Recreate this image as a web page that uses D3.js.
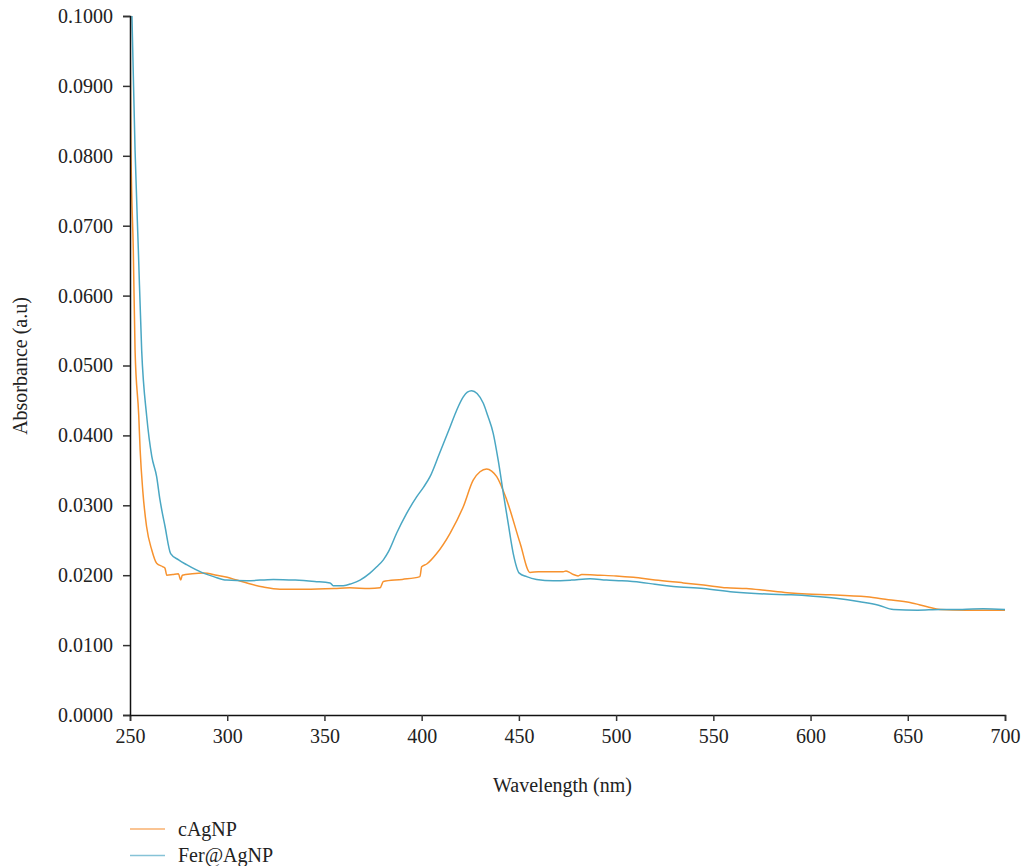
<!DOCTYPE html>
<html>
  <head>
    <meta charset="utf-8">
    <script src="https://d3js.org/d3.v7.min.js"></script>
    <style>
      body { margin: 0; background: #fff; }
      text { font-family: "Liberation Serif", serif; }
    </style>
  </head>
  <body>
    <div id="chart"></div>
    <script>
      // wavelength (nm) and absorbance
      var cAgNP = [
        [250, 0.1000], [250.5, 0.0808], [251.7, 0.0665], [252.6, 0.0522], [254.5, 0.0428],
        [255.2, 0.0380], [256.6, 0.0320], [258.5, 0.0270], [261.2, 0.0236], [263.7, 0.0217],
        [267, 0.0212], [268, 0.0210], [268.9, 0.0200], [272, 0.0201], [274.9, 0.0202],
        [276.1, 0.0193], [276.9, 0.0200], [282, 0.0202], [287.7, 0.0203], [294.6, 0.0200],
        [300, 0.0197], [304.9, 0.0193], [311, 0.0188], [318.6, 0.0183], [327.1, 0.0180],
        [340, 0.0180], [355, 0.0181], [363, 0.0182], [373, 0.0181], [378.6, 0.0182],
        [380.3, 0.0191], [390, 0.0194], [399.1, 0.0198], [400, 0.0212], [402.6, 0.0216],
        [407.7, 0.0231], [414.6, 0.0260], [421.4, 0.0298], [426.5, 0.0336], [430, 0.0348],
        [433.4, 0.0352], [436, 0.0349], [438.6, 0.0341], [443.7, 0.0308], [450.6, 0.0246],
        [455.7, 0.0204], [460, 0.0205], [466, 0.0205], [472.8, 0.0205], [474.2, 0.0206],
        [476, 0.0204], [478, 0.0201], [480.5, 0.0199], [482.3, 0.0201], [491.7, 0.0200],
        [500, 0.0199], [508.9, 0.0197], [520, 0.0193], [534.6, 0.0189], [545, 0.0186],
        [556.9, 0.0182], [567, 0.0181], [577.5, 0.0178], [588, 0.0175], [598, 0.0173],
        [610, 0.0172], [628.9, 0.0169], [640, 0.0165], [651.1, 0.0161], [660, 0.0155],
        [666.6, 0.0151], [680, 0.0150], [700, 0.0150]
      ];

      var ferAgNP = [
        [251, 0.1000], [252.6, 0.0808], [254.3, 0.0665], [256, 0.0522], [258.6, 0.0427],
        [261.2, 0.0370], [263.7, 0.0341], [265.4, 0.0308], [268, 0.0270], [270.9, 0.0231],
        [275, 0.0222], [279.1, 0.0215], [287.7, 0.0203], [293, 0.0198], [299.7, 0.0193],
        [310, 0.0192], [323.7, 0.0194], [335, 0.0193], [345, 0.0191], [352.9, 0.0189],
        [354.5, 0.0185], [359.7, 0.0185], [364, 0.0188], [368.3, 0.0193], [373.4, 0.0203],
        [376.9, 0.0212], [380.3, 0.0222], [383, 0.0234], [387.1, 0.0260], [392, 0.0287],
        [397.4, 0.0312], [401, 0.0326], [404.3, 0.0341], [409, 0.0373], [414.6, 0.0412],
        [418, 0.0436], [421.4, 0.0455], [423.5, 0.0462], [425.7, 0.0464], [428.5, 0.0460],
        [431.7, 0.0446], [434, 0.0428], [436.8, 0.0403], [439.5, 0.0362], [442, 0.0317],
        [444.5, 0.0274], [447.1, 0.0231], [450.2, 0.0203], [454, 0.0198], [459.1, 0.0194],
        [467.7, 0.0192], [477, 0.0193], [486.6, 0.0195], [495, 0.0193], [503, 0.0192],
        [512.3, 0.0190], [520, 0.0187], [529.4, 0.0184], [545, 0.0181], [560.2, 0.0176],
        [577.5, 0.0173], [590, 0.0172], [601.4, 0.0170], [613, 0.0167], [625.4, 0.0162],
        [635, 0.0157], [642.6, 0.0151], [655, 0.0150], [666.6, 0.0151], [678, 0.0151],
        [688.8, 0.0152], [700, 0.0151]
      ];

      var xTicks = [250, 300, 350, 400, 450, 500, 550, 600, 650, 700];
      var yTicks = [0, 0.01, 0.02, 0.03, 0.04, 0.05, 0.06, 0.07, 0.08, 0.09, 0.1];
      var seriesNames = ["cAgNP", "Fer@AgNP"];
      var seriesColors = ["#f7922e", "#4aa7c3"];
      var legendColors = ["#f9b06f", "#86c3d7"];

      var margin = { top: 16, right: 17, bottom: 151, left: 130 };
      var width = 1022 - margin.left - margin.right;
      var height = 866 - margin.top - margin.bottom;

      var svg = d3.select("#chart")
        .append("svg")
        .attr("width", 1022)
        .attr("height", 866);

      var g = svg.append("g")
        .attr("transform", "translate(" + margin.left + "," + margin.top + ")");

      var x = d3.scaleLinear().domain([250, 700]).range([0, width]);
      var y = d3.scaleLinear().domain([0, 0.1]).range([height, 0]);

      g.append("clipPath").attr("id", "plot")
        .append("rect").attr("x", 0).attr("y", 0).attr("width", width).attr("height", height);

      var line = d3.line()
        .x(function(d) { return x(d[0]); })
        .y(function(d) { return y(d[1]); })
        .curve(d3.curveMonotoneX);

      [cAgNP, ferAgNP].forEach(function(s, i) {
        g.append("path")
          .datum(s)
          .attr("clip-path", "url(#plot)")
          .attr("fill", "none")
          .attr("stroke", seriesColors[i])
          .attr("stroke-width", 1.5)
          .attr("d", line);
      });

      var xAxis = g.append("g")
        .attr("transform", "translate(0," + height + ")")
        .call(d3.axisBottom(x).tickValues(xTicks).tickSize(6).tickPadding(8).tickFormat(d3.format("d")));

      var yAxis = g.append("g")
        .call(d3.axisLeft(y).tickValues(yTicks).tickSize(7).tickPadding(10).tickFormat(d3.format(".4f")));

      [xAxis, yAxis].forEach(function(a) {
        a.select(".domain").attr("stroke", "#111").attr("stroke-width", 1.5);
        a.selectAll(".tick line").attr("stroke", "#333").attr("stroke-width", 1.5);
        a.selectAll(".tick text")
          .attr("font-family", "Liberation Serif")
          .attr("font-size", "20px")
          .attr("fill", "#222");
      });

      svg.append("text")
        .attr("x", margin.left + width / 2 - 5)
        .attr("y", 792)
        .attr("text-anchor", "middle")
        .attr("font-size", "20px")
        .attr("fill", "#222")
        .text("Wavelength (nm)");

      svg.append("text")
        .attr("transform", "translate(27," + 366 + ") rotate(-90)")
        .attr("text-anchor", "middle")
        .attr("font-size", "20px")
        .attr("fill", "#222")
        .text("Absorbance (a.u)");

      // legend
      var legend = svg.append("g").attr("transform", "translate(130,829)");
      seriesNames.forEach(function(name, i) {
        var row = legend.append("g").attr("transform", "translate(0," + (i * 26.5) + ")");
        row.append("line")
          .attr("x1", 0).attr("x2", 35)
          .attr("stroke", legendColors[i])
          .attr("stroke-width", 1.5);
        row.append("text")
          .attr("x", 48)
          .attr("dy", "0.33em")
          .attr("font-size", "20px")
          .attr("fill", "#222")
          .text(name);
      });
    </script>
  </body>
</html>
